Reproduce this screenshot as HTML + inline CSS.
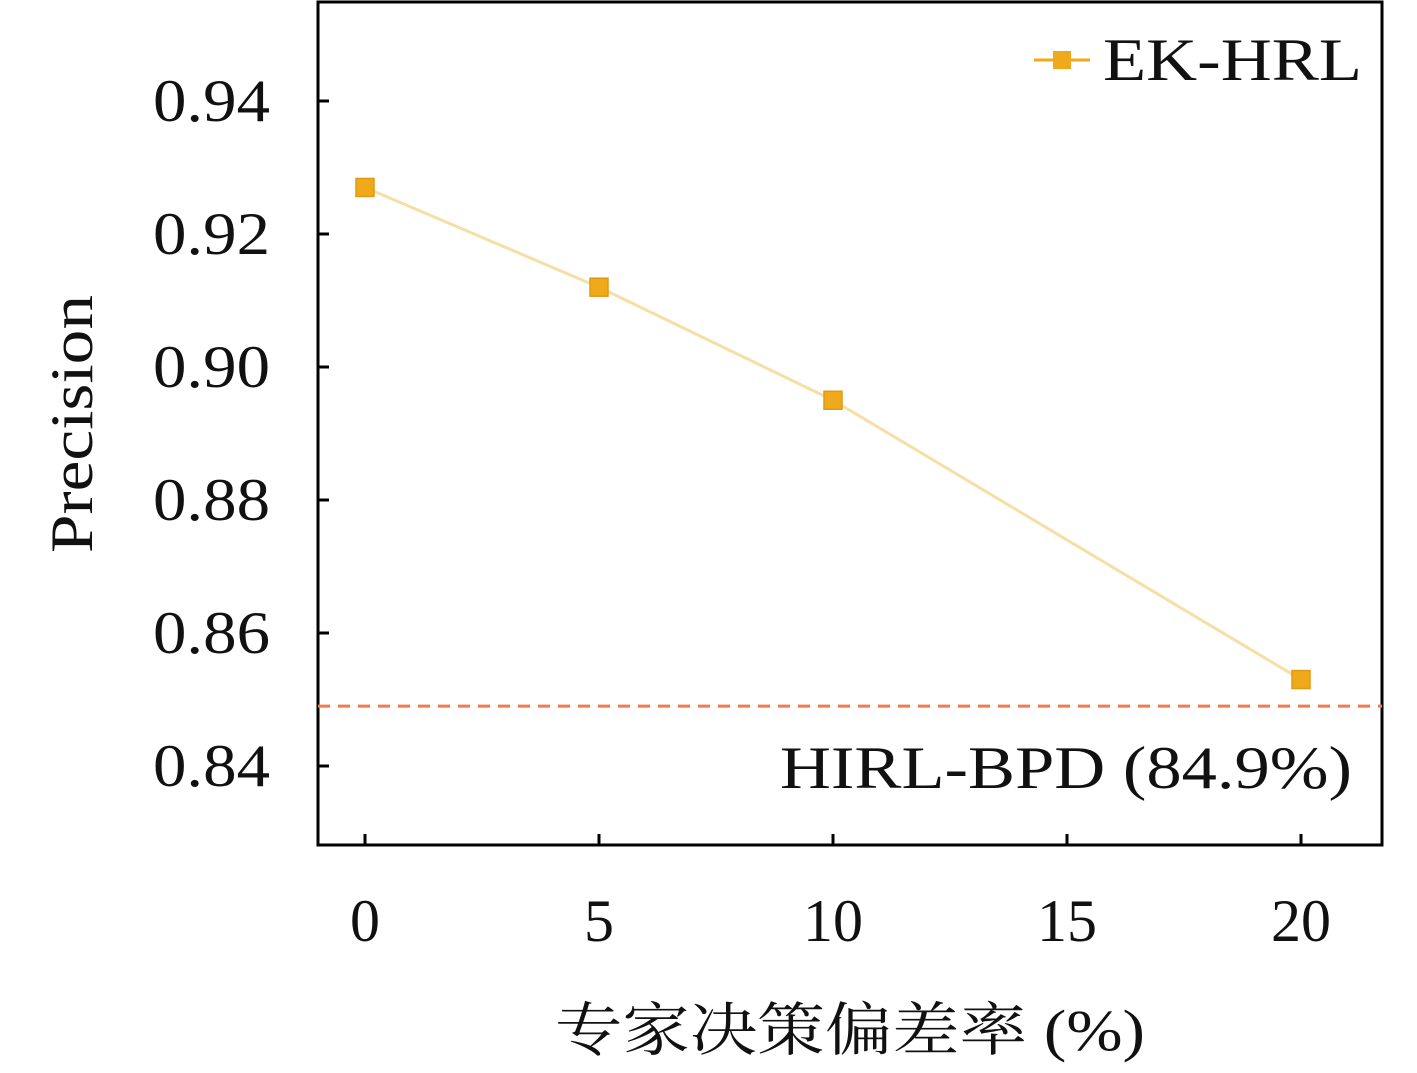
<!DOCTYPE html>
<html><head><meta charset="utf-8"><style>
body{margin:0;background:#fff;}
svg text{font-family:"Liberation Serif","Noto Serif CJK SC",serif;fill:#111;}
</style></head><body>
<svg width="1417" height="1068" id="chart">
<rect x="318" y="2" width="1064" height="843" fill="none" stroke="#000" stroke-width="3"/>
<g id="g"></g>
</svg>
<script>
const categories=[0,5,10,20];
const precision=[0.927,0.912,0.895,0.853];
const baselineValue=0.849;
const yTicks=[0.84,0.86,0.88,0.90,0.92,0.94];
const yTickLabels=["0.84","0.86","0.88","0.90","0.92","0.94"];
const xTicks=[0,5,10,15,20];
const xTickLabels=["0","5","10","15","20"];
const X=v=>365+(v-0)*46.8;
const Y=v=>101+(0.94-v)/0.02*133;
const g=document.getElementById('g');
const NS='http://www.w3.org/2000/svg';
function mk(t,a,txt){const e=document.createElementNS(NS,t);for(const k in a)e.setAttribute(k,a[k]);if(txt!==undefined)e.textContent=txt;g.appendChild(e);return e;}
yTicks.forEach((v,i)=>{
 let l=mk('line',{x1:318,x2:329,y1:Y(v),y2:Y(v),stroke:'#000','stroke-width':3});
 
 
 let t=mk('text',{x:153,y:Y(v)+20,'font-size':60,textLength:117,lengthAdjust:'spacingAndGlyphs'},yTickLabels[i]);
 
 
});
xTicks.forEach((v,i)=>{
 let l=mk('line',{x1:X(v),x2:X(v),y1:845,y2:834,stroke:'#000','stroke-width':3});
 
 
 let t=mk('text',{x:X(v),y:941,'text-anchor':'middle','font-size':60},xTickLabels[i]);
 
 
});
let bl=mk('line',{x1:318,x2:1382,y1:Y(baselineValue),y2:Y(baselineValue),stroke:'#ef7a4a','stroke-width':3,'stroke-dasharray':'12 8'});


let bt=mk('text',{x:780,y:788,'font-size':60,textLength:572,lengthAdjust:'spacingAndGlyphs'},'HIRL-BPD (84.9%)');


let pl=mk('polyline',{points:categories.map((c,i)=>X(c)+','+Y(precision[i])).join(' '),fill:'none',stroke:'#f6dfa6','stroke-width':3});


categories.forEach((c,i)=>{
 let r=mk('rect',{x:X(c)-9,y:Y(precision[i])-9,width:18,height:18,fill:'#f0a91a',stroke:'#e09a10','stroke-width':1.5});
 
 
});
let ll=mk('line',{x1:1034,x2:1090,y1:60,y2:60,stroke:'#f0a91a','stroke-width':3});


let lm=mk('rect',{x:1053,y:51,width:18,height:18,fill:'#f0a91a'});


let lt=mk('text',{x:1103,y:80,'font-size':60,textLength:259,lengthAdjust:'spacingAndGlyphs'},'EK-HRL');


let yt=mk('text',{x:0,y:0,'font-size':60,textLength:258,lengthAdjust:'spacingAndGlyphs',transform:'translate(92,553) rotate(-90)'},'Precision');


let xt=mk('text',{x:555,y:1050,'font-size':58,textLength:590,lengthAdjust:'spacingAndGlyphs'},'专家决策偏差率 (%)');


</script>
</body></html>
